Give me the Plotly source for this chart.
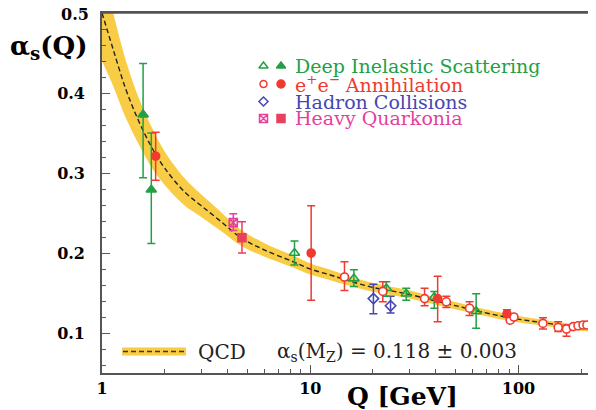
import plotly.graph_objects as go

# ---------------- data ----------------
# QCD running coupling curve and its uncertainty band
qcd_q = [1.0, 1.13, 1.3, 1.5, 1.75, 2.0, 2.5, 3.0, 3.7, 4.65, 6.0, 8.3, 10, 12.5,
         15, 20, 29, 40, 52, 60, 91, 130, 180, 240]
qcd_a = [0.500, 0.455, 0.405, 0.365, 0.330, 0.306, 0.276, 0.259, 0.240, 0.219, 0.204,
         0.189, 0.180, 0.1725, 0.166, 0.157, 0.149, 0.140, 0.133, 0.129, 0.119, 0.113,
         0.108, 0.104]
qcd_halfwidth = [0.060, 0.046, 0.036, 0.029, 0.025, 0.021, 0.017, 0.014, 0.012, 0.010,
                 0.0085, 0.0075, 0.007, 0.0065, 0.006, 0.0055, 0.005, 0.0047, 0.0045,
                 0.0043, 0.004, 0.0037, 0.0035, 0.0034]

# Deep Inelastic Scattering
dis_open_q = [8.4, 16.2, 23.2, 28.9, 39.4, 62.6]
dis_open_a = [0.200, 0.168, 0.156, 0.149, 0.145, 0.127]
dis_open_ep = [0.015, 0.011, 0.008, 0.007, 0.007, 0.022]
dis_open_em = [0.015, 0.010, 0.010, 0.008, 0.014, 0.021]
dis_fill_q = [1.575, 1.725]
dis_fill_a = [0.373, 0.279]
dis_fill_ep = [0.064, 0.071]
dis_fill_em = [0.079, 0.067]

# e+e- Annihilation
ee_open_q = [14.6, 22.3, 35.4, 45.0, 58.2, 91.2, 95, 131, 155, 170, 183, 193, 204, 213]
ee_open_a = [0.170, 0.152, 0.143, 0.139, 0.131, 0.116, 0.120, 0.112, 0.107, 0.105,
             0.108, 0.109, 0.110, 0.110]
ee_open_ep = [0.019, 0.012, 0.013, 0.007, 0.008, 0.003, 0.003, 0.007, 0.007, 0.005,
              0.002, 0.002, 0.002, 0.002]
ee_open_em = [0.017, 0.013, 0.009, 0.007, 0.009, 0.003, 0.003, 0.007, 0.005, 0.009,
              0.002, 0.002, 0.002, 0.002]
ee_fill_q = [1.81, 10.1, 40.9, 88]
ee_fill_a = [0.321, 0.200, 0.143, 0.124]
ee_fill_ep = [0.030, 0.059, 0.028, 0.005]
ee_fill_em = [0.030, 0.059, 0.029, 0.004]

# Hadron Collisions
had_q = [20.1, 24.3]
had_a = [0.143, 0.134]
had_ep = [0.018, 0.012]
had_em = [0.019, 0.009]

# Heavy Quarkonia
hq_open_q = [4.27]
hq_open_a = [0.238]
hq_open_ep = [0.011]
hq_open_em = [0.010]
hq_fill_q = [4.70]
hq_fill_a = [0.219]
hq_fill_ep = [0.020]
hq_fill_em = [0.019]

legend_labels = ["Deep Inelastic Scattering", "e<sup>+</sup>e<sup>\u2212</sup> Annihilation",
                 "Hadron Collisions", "Heavy Quarkonia"]
x_tick_vals = [1, 10, 100]
x_tick_text = ["1", "10", "100"]
y_tick_vals = [0.1, 0.2, 0.3, 0.4, 0.5]
y_tick_text = ["0.1", "0.2", "0.3", "0.4", "0.5"]

# ---------------- styling ----------------
GREEN = "#23a046"
RED = "#f03a30"
BLUE = "#4646b4"
PINK = "#e6409c"
PINKRED = "#e8405e"
YELLOW = "#f9cc45"
SERIF = "DejaVu Serif, Liberation Serif, serif"

# The page places the figure 8px from the window's top-left corner (body margin),
# so the figure is made 8px smaller and every layout position is shifted by 8px.
OFF = 8
WIN_W, WIN_H = 596, 410
W, H = WIN_W - OFF, WIN_H - OFF
# plot area in window pixels: x 102..596, y 13..373
PL, PT, PR, PB = 102, 13, 596, 373
L, T = PL - OFF, PT - OFF
R, B = W - (PR - OFF), H - (PB - OFF)
PW, PH = PR - PL, PB - PT


def px(x):  # window pixel -> paper fraction
    return (x - PL) / PW


def py(y):
    return (PB - y) / PH


band_hi = [a + h for a, h in zip(qcd_a, qcd_halfwidth)]
band_lo = [a - h for a, h in zip(qcd_a, qcd_halfwidth)]

fig = go.Figure()

fig.add_trace(go.Scatter(x=qcd_q, y=band_hi, mode="lines", line=dict(width=0, shape="spline"),
                         hoverinfo="skip", showlegend=False))
fig.add_trace(go.Scatter(x=qcd_q, y=band_lo, mode="lines", line=dict(width=0, shape="spline"),
                         fill="tonexty", fillcolor=YELLOW, hoverinfo="skip", showlegend=False))
fig.add_trace(go.Scatter(x=qcd_q, y=qcd_a, mode="lines",
                         line=dict(color="#222222", width=1.4, dash="5px,3px", shape="spline"),
                         showlegend=False))


def pts(q, a, ep, em, color, symbol, size=8, fill=None):
    fig.add_trace(go.Scatter(
        x=q, y=a, mode="markers", showlegend=False, cliponaxis=False,
        error_y=dict(type="data", array=ep, arrayminus=em, color=color,
                     thickness=1.5, width=4),
        marker=dict(symbol=symbol, size=size, color=fill if fill else color,
                    line=dict(color=color, width=1.6))))


pts(had_q, had_a, had_ep, had_em, BLUE, "diamond-open", 8)
pts(dis_open_q, dis_open_a, dis_open_ep, dis_open_em, GREEN, "triangle-up-open", 9)
pts(dis_fill_q, dis_fill_a, dis_fill_ep, dis_fill_em, GREEN, "triangle-up", 9)
pts(ee_open_q, ee_open_a, ee_open_ep, ee_open_em, RED, "circle", 8, fill="white")
pts(ee_fill_q, ee_fill_a, ee_fill_ep, ee_fill_em, RED, "circle", 8)
pts(hq_open_q, hq_open_a, hq_open_ep, hq_open_em, PINK, "square-x-open", 8)
pts(hq_fill_q, hq_fill_a, hq_fill_ep, hq_fill_em, PINKRED, "square", 8)

# ---------------- legend keys (on a window-pixel overlay axis) ----------------
key_x1, key_x2 = 263.5, 281
rows_y = [66, 84, 101.5, 118.5]
key_specs = [
    [(key_x1, "triangle-up-open", GREEN, 8), (key_x2, "triangle-up", GREEN, 8)],
    [(key_x1, "circle-open", RED, 7), (key_x2, "circle", RED, 8)],
    [(key_x1, "diamond-open", BLUE, 7)],
    [(key_x1, "square-x-open", PINK, 8), (key_x2, "square", PINKRED, 8)],
]
for ry, specs in zip(rows_y, key_specs):
    for kx, sym, col, sz in specs:
        fig.add_trace(go.Scatter(x=[kx], y=[ry], xaxis="x2", yaxis="y2", mode="markers",
                                 showlegend=False, hoverinfo="skip",
                                 marker=dict(symbol=sym, size=sz, color=col,
                                             line=dict(color=col, width=1.5))))

fig.add_trace(go.Scatter(x=[122, 186], y=[351.5, 351.5], xaxis="x2", yaxis="y2", mode="lines",
                         line=dict(color=YELLOW, width=8), showlegend=False, hoverinfo="skip"))
fig.add_trace(go.Scatter(x=[123, 185], y=[351.5, 351.5], xaxis="x2", yaxis="y2", mode="lines",
                         line=dict(color="#333333", width=1.3, dash="5px,3px"),
                         showlegend=False, hoverinfo="skip"))

TICKFONT_Y = dict(family=SERIF, size=16, color="black", weight="bold")

annotations = []
for ry, lab, col in zip(rows_y, legend_labels, [GREEN, RED, BLUE, PINK]):
    annotations.append(dict(x=px(293), y=py(ry), xref="paper", yref="paper", text=lab,
                            showarrow=False, xanchor="left", yanchor="middle",
                            font=dict(family=SERIF, size=19, color=col)))

annotations.append(dict(x=px(196), y=py(352), xref="paper", yref="paper", text="QCD",
                        showarrow=False, xanchor="left", yanchor="middle",
                        font=dict(family=SERIF, size=20, color="#222222")))
annotations.append(dict(x=px(275), y=py(352), xref="paper", yref="paper",
                        text="\u03b1<sub>s</sub>(M<sub>Z</sub>) = 0.118 \u00b1 0.003",
                        showarrow=False, xanchor="left", yanchor="middle",
                        font=dict(family=SERIF, size=20, color="#222222")))
annotations.append(dict(x=px(8), y=py(48), xref="paper", yref="paper",
                        text="\u03b1<sub>s</sub>(Q)",
                        showarrow=False, xanchor="left", yanchor="middle",
                        font=dict(family=SERIF, size=26, color="black", weight="bold")))
annotations.append(dict(x=px(402), y=py(396), xref="paper", yref="paper",
                        text="Q [GeV]",
                        showarrow=False, xanchor="center", yanchor="middle",
                        font=dict(family=SERIF, size=25, color="black", weight="bold")))
# topmost y tick label sits right at the page edge: place it as text just inside
annotations.append(dict(x=px(91), y=py(15), xref="paper", yref="paper",
                        text=y_tick_text[-1], showarrow=False,
                        xanchor="right", yanchor="middle", font=TICKFONT_Y))

axis_y_ticktext = y_tick_text[:-1] + [""]

AXC = "#555555"
fig.update_layout(
    width=W, height=H,
    margin=dict(l=L, r=R, t=T, b=B, pad=0, autoexpand=False),
    paper_bgcolor="white", plot_bgcolor="white",
    showlegend=False,
    annotations=annotations,
    shapes=[dict(type="line", xref="paper", yref="paper", x0=0, x1=1, y0=1, y1=1,
                 line=dict(color=AXC, width=1.6), layer="above")],
    xaxis=dict(type="log", range=[0, 2.372], tickvals=x_tick_vals, ticktext=x_tick_text,
               ticks="inside", ticklen=8, tickwidth=1.3, tickcolor=AXC, automargin=False,
               showline=True, linecolor=AXC, linewidth=1.6, mirror=True,
               showgrid=False, zeroline=False, ticklabeloverflow="allow",
               tickfont=dict(family=SERIF, size=16, color="black", weight="bold"),
               minor=dict(tickvals=[2, 3, 4, 5, 6, 7, 8, 9, 20, 30, 40, 50, 60, 70, 80, 90, 200],
                          ticks="inside", ticklen=4, tickcolor=AXC, showgrid=False)),
    yaxis=dict(range=[0.05, 0.5], tickvals=y_tick_vals, ticktext=axis_y_ticktext,
               ticks="inside", ticklen=8, tickwidth=1.3, tickcolor=AXC, automargin=False,
               showline=True, linecolor=AXC, linewidth=1.6, mirror="ticks",
               showgrid=False, zeroline=False, ticklabelstandoff=12,
               ticklabeloverflow="allow",
               tickfont=TICKFONT_Y,
               minor=dict(dtick=0.02, tick0=0, ticks="inside", ticklen=4, tickcolor=AXC,
                          showgrid=False)),
    xaxis2=dict(overlaying="x", range=[PL, PR], visible=False, anchor="y2"),
    yaxis2=dict(overlaying="y", range=[PB, PT], visible=False, anchor="x2"),
)

fig.write_html("out.html")
